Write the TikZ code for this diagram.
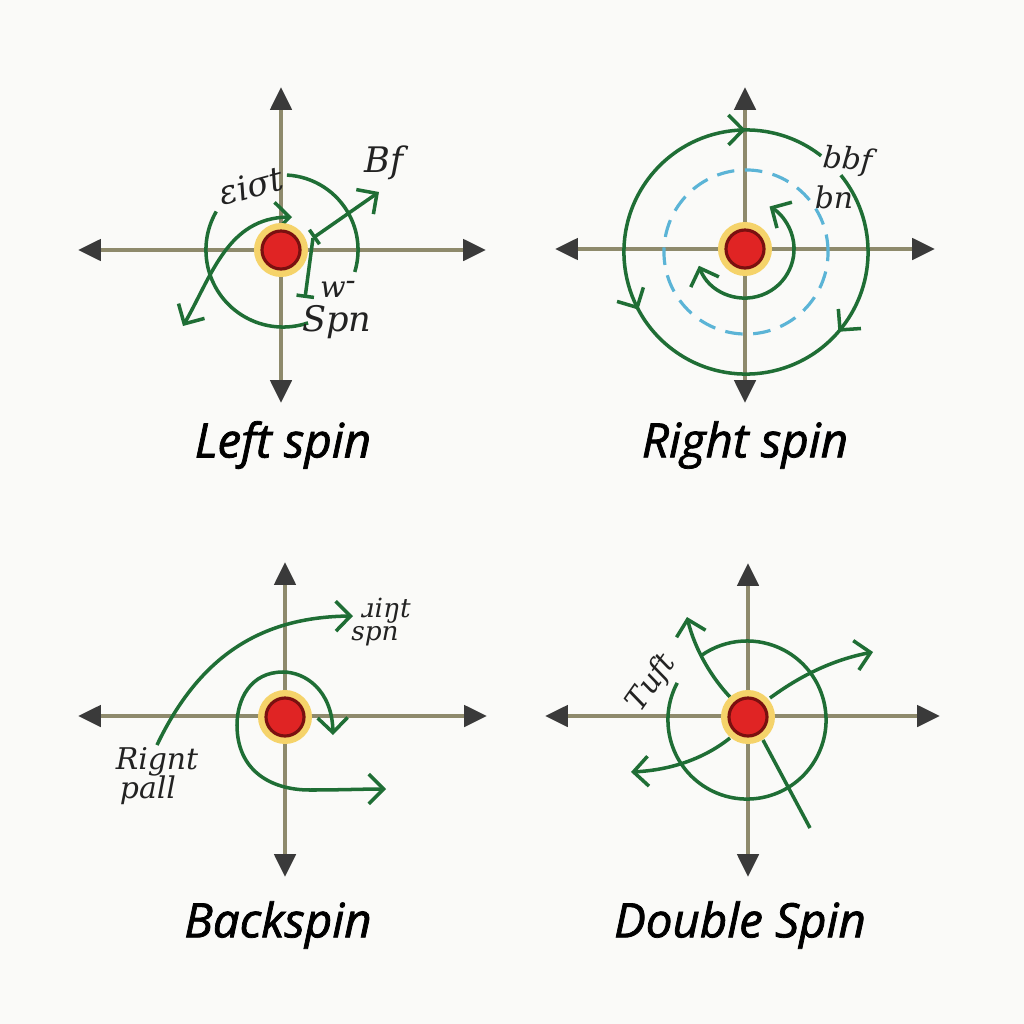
\documentclass[tikz,border=0pt]{standalone}
\usepackage{fontspec}
\setmainfont{Open Sans}
\newfontfamily\titlefont[FakeBold=1.6]{Open Sans}
\newfontfamily\handfont{DejaVu Serif}
\usetikzlibrary{arrows.meta,decorations.markings}
\definecolor{bgc}{HTML}{FAFAF8}
\definecolor{axisc}{HTML}{8E8A6C}
\definecolor{tipc}{HTML}{3A3A3A}
\definecolor{greenc}{HTML}{1F6E35}
\definecolor{ballc}{HTML}{E02424}
\definecolor{balledge}{HTML}{7A1010}
\definecolor{glowc}{HTML}{F5D36A}
\definecolor{bluec}{HTML}{5BB4D6}
\definecolor{textc}{HTML}{222222}
\tikzset{
  axisline/.style={line width=1.2pt, draw=axisc,
    {Triangle[length=6.5pt,width=6pt,color=tipc]}-{Triangle[length=6.5pt,width=6pt,color=tipc]}},
  gline/.style={line width=1pt, draw=greenc},
  gtip/.style={-{Straight Barb[length=4.2pt,width=8.5pt]}},
  gboth/.style={{Straight Barb[length=4.2pt,width=8.5pt]}-{Straight Barb[length=4.2pt,width=8.5pt]}},
  ball/.style={circle, fill=ballc, draw=balledge, line width=0.9pt, minimum size=0.38cm, inner sep=0pt},
  glow/.style={fill=glowc},
  title/.style={font=\titlefont\itshape\fontsize{13.5}{15}\selectfont, text=black},
  hand/.style={font=\handfont\itshape\fontsize{8.5}{9}\selectfont, text=textc, inner sep=0pt},
  fwd/.style={postaction={decorate, decoration={markings, mark=at position #1 with {\arrow{Straight Barb[length=4.2pt,width=8.5pt]}}}}},
  bwd/.style={postaction={decorate, decoration={markings, mark=at position #1 with {\arrowreversed{Straight Barb[length=4.2pt,width=8.5pt]}}}}},
}
\begin{document}
\begin{tikzpicture}[x=0.01cm,y=0.01cm]
\fill[bgc] (0,0) rectangle (1024,-1024);
\useasboundingbox (0,0) rectangle (1024,-1024);

% ================= Panel 1: Left spin =================
\coordinate (c1) at (281,-250);
\coordinate (h1l) at (78,-250);  \coordinate (h1r) at (486,-250);
\coordinate (v1t) at (281,-87);  \coordinate (v1b) at (281,-403);
\draw[axisline] (h1l) -- (h1r);
\draw[axisline] (v1t) -- (v1b);
\coordinate (a1c) at (283,-250);
\draw[gline] (a1c) ++(87:0.75cm) arc[start angle=87, end angle=-17, radius=0.75cm];
\draw[gline] (a1c) ++(150:0.77cm) arc[start angle=150, end angle=289, radius=0.77cm];
\coordinate (p1a) at (183,-326);
\coordinate (p1b) at (292,-217);
\draw[gline,gboth] (p1a) .. controls (212,-275) and (228,-218) .. (p1b);
\coordinate (bfs) at (313,-238);
\coordinate (bfe) at (379,-192);
\coordinate (wbot) at (305,-298);
\draw[gline,{Bar[width=5pt]}-{Straight Barb[length=4.2pt,width=8.5pt]}] (bfs) -- (bfe);
\draw[gline,-{Bar[width=5pt]}] (bfs) -- (wbot);
\fill[glow] (c1) circle (0.27cm);
\node[ball] (b1) at (c1) {};
\node[hand, rotate=15, font=\handfont\itshape\fontsize{9.5}{10}\selectfont] (l1a) at (251,-186) {εiσt};
\node[hand, font=\handfont\itshape\fontsize{10}{10}\selectfont] (l1b) at (384,-163) {Bf};
\node[hand] (l1c) at (338,-289) {w\raisebox{0.45ex}{-}};
\node[hand, font=\handfont\itshape\fontsize{10}{10}\selectfont] (l1d) at (337,-322) {Spn};
\node[title] (t1) at (283,-445) {Left spin};

% ================= Panel 2: Right spin =================
\coordinate (c2) at (745,-249);
\coordinate (h2l) at (555,-249);  \coordinate (h2r) at (935,-249);
\coordinate (v2t) at (745,-87);   \coordinate (v2b) at (745,-403);
\draw[axisline] (h2l) -- (h2r);
\draw[axisline] (v2t) -- (v2b);
\coordinate (o2c) at (746,-252);
\draw[gline, bwd=0.11, fwd=0.45, bwd=0.77] (o2c) ++(52:1.22cm) arc[start angle=52, end angle=399, radius=1.22cm];
\draw[bluec, line width=0.9pt, dash pattern=on 5pt off 3pt] (o2c) circle (0.82cm);
\draw[gline, gboth] (c2) ++(200:0.49cm) arc[start angle=200, end angle=420, radius=0.49cm];
\fill[glow] (c2) circle (0.27cm);
\node[ball] (b2) at (c2) {};
\node[hand, rotate=-5] (l2a) at (848,-161) {bbf};
\node[hand] (l2b) at (834,-197) {bn};
\node[title] (t2) at (745,-445) {Right spin};

% ================= Panel 3: Backspin =================
\coordinate (c3) at (285,-717);
\coordinate (h3l) at (78,-716);  \coordinate (h3r) at (487,-716);
\coordinate (v3t) at (285,-562); \coordinate (v3b) at (285,-877);
\draw[axisline] (h3l) -- (h3r);
\draw[axisline] (v3t) -- (v3b);
\coordinate (p3a) at (157,-745);
\coordinate (p3b) at (353,-616);
\draw[gline, gtip] (p3a) .. controls (200,-655) and (262,-617) .. (p3b);
\coordinate (q3a) at (333,-735);
\coordinate (q3b) at (386,-789);
\draw[gline, gboth] (q3a) .. controls (332,-690) and (305,-672) .. (283,-672)
   .. controls (250,-672) and (237,-700) .. (237,-725)
   .. controls (237,-770) and (270,-790) .. (310,-790)
   .. controls (340,-790) and (365,-789) .. (q3b);
\fill[glow] (c3) circle (0.27cm);
\node[ball] (b3) at (c3) {};
\node[hand] (l3a) at (157,-762) {Rignt};
\node[hand] (l3b) at (148,-790) {pall};
\node[hand, font=\handfont\itshape\fontsize{7.5}{8}\selectfont] (l3c) at (386,-611) {ɹiŋt};
\node[hand, font=\handfont\itshape\fontsize{7.5}{8}\selectfont] (l3d) at (375,-636) {spn};
\node[title] (t3) at (278,-925) {Backspin};

% ================= Panel 4: Double Spin =================
\coordinate (c4) at (748,-717);
\coordinate (h4l) at (545,-716); \coordinate (h4r) at (940,-716);
\coordinate (v4t) at (748,-563); \coordinate (v4b) at (748,-877);
\draw[axisline] (h4l) -- (h4r);
\draw[axisline] (v4t) -- (v4b);
\coordinate (o4c) at (747,-720);
\draw[gline] (o4c) ++(152:0.79cm) arc[start angle=152, end angle=485, radius=0.79cm];
\coordinate (d1s) at (730,-697); \coordinate (d1e) at (687,-617);
\coordinate (d2s) at (770,-698); \coordinate (d2e) at (873,-652);
\coordinate (d3s) at (730,-738); \coordinate (d3e) at (631,-772);
\coordinate (d4s) at (763,-740); \coordinate (d4e) at (810,-828);
\draw[gline, gtip] (d1s) .. controls (712,-678) and (695,-650) .. (d1e);
\draw[gline, gtip] (d2s) .. controls (800,-676) and (832,-660) .. (d2e);
\draw[gline, gtip] (d3s) .. controls (705,-758) and (672,-770) .. (d3e);
\draw[gline] (d4s) -- (d4e);
\fill[glow] (c4) circle (0.27cm);
\node[ball] (b4) at (c4) {};
\node[hand, rotate=55] (l4a) at (652,-683) {Tuft};
\node[title] (t4) at (740,-925) {Double Spin};
\end{tikzpicture}
\end{document}
